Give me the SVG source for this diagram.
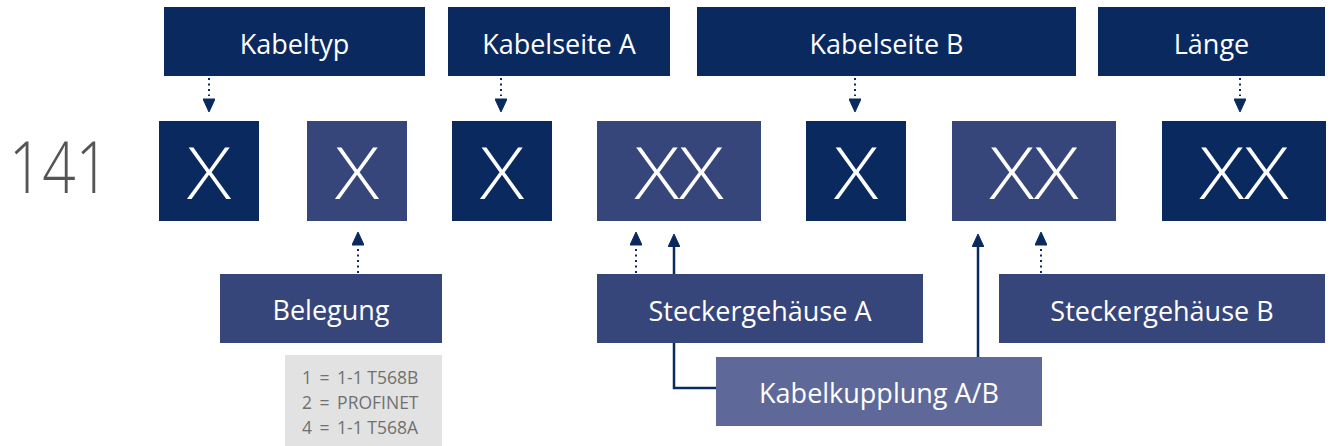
<svg xmlns="http://www.w3.org/2000/svg" width="1332" height="446" viewBox="0 0 1332 446">
<style>
.dark{fill:#0a2a5f}
.mid{fill:#37467a}
.light{fill:#5f6999}
.lbl{font-family:"Open Sans","Noto Sans",sans-serif;font-size:27px;fill:#ffffff;text-anchor:middle}
.big{font-family:"Open Sans","Noto Sans",sans-serif;font-size:72px;font-weight:300;fill:#ffffff;text-anchor:middle}
.code{font-family:"Open Sans","Noto Sans",sans-serif;font-size:72px;font-weight:300;fill:#555555}
.small{font-family:"Open Sans","Noto Sans",sans-serif;font-size:17.5px;fill:#707070}
.eq{word-spacing:3px}
.dot{fill:none;stroke:#0a2a5f;stroke-width:2;stroke-dasharray:2 3.5}
.solid{fill:none;stroke:#0a2a5f;stroke-width:2.5}
</style>
<defs>
<marker id="ahg" markerUnits="userSpaceOnUse" viewBox="0 0 16 12" markerWidth="16" markerHeight="12" refX="0" refY="6" orient="auto">
<path d="M3,0 L16,6 L3,12 z" fill="#0a2a5f" stroke="#0a2a5f" stroke-width="1" stroke-linejoin="round"/>
</marker>
<marker id="ah" markerUnits="userSpaceOnUse" viewBox="0 0 14 12" markerWidth="14" markerHeight="12" refX="1" refY="6" orient="auto">
<path d="M0,0 L13,6 L0,12 z" fill="#0a2a5f" stroke="#0a2a5f" stroke-width="1" stroke-linejoin="round"/>
</marker>
</defs>

<g id="connectors">
<path class="dot" d="M209,78 V96" marker-end="url(#ahg)"/>
<path class="dot" d="M501,78 V96" marker-end="url(#ahg)"/>
<path class="dot" d="M855,78 V96" marker-end="url(#ahg)"/>
<path class="dot" d="M1240,78 V96" marker-end="url(#ahg)"/>
<path class="dot" d="M358,273 V248" marker-end="url(#ahg)"/>
<path class="dot" d="M636,273 V248" marker-end="url(#ahg)"/>
<path class="dot" d="M1041,273 V248" marker-end="url(#ahg)"/>
<path class="solid" d="M716,388 H674 V246" marker-end="url(#ah)"/>
<path class="solid" d="M978,357 V246" marker-end="url(#ah)"/>
</g>

<g id="code-141"><text class="code" x="9" y="193" textLength="100" lengthAdjust="spacingAndGlyphs">141</text></g>

<g id="kabeltyp"><rect class="dark" x="164" y="7" width="261" height="69"/><text class="lbl" x="294.5" y="54">Kabeltyp</text></g>
<g id="kabelseite-a"><rect class="dark" x="448" y="7" width="222" height="69"/><text class="lbl" x="559" y="54">Kabelseite A</text></g>
<g id="kabelseite-b"><rect class="dark" x="697" y="7" width="379" height="69"/><text class="lbl" x="886.5" y="54">Kabelseite B</text></g>
<g id="laenge"><rect class="dark" x="1098" y="7" width="227" height="69"/><text class="lbl" x="1211.5" y="54">Länge</text></g>

<g id="x1"><rect class="dark" x="159" y="121" width="100" height="100"/><text class="big" x="209" y="199" textLength="44" lengthAdjust="spacingAndGlyphs">X</text></g>
<g id="x2"><rect class="mid" x="307" y="121" width="100" height="100"/><text class="big" x="357" y="199" textLength="44" lengthAdjust="spacingAndGlyphs">X</text></g>
<g id="x3"><rect class="dark" x="452" y="121" width="100" height="100"/><text class="big" x="502" y="199" textLength="44" lengthAdjust="spacingAndGlyphs">X</text></g>
<g id="xx4"><rect class="mid" x="597" y="121" width="164" height="100"/><text class="big" x="679" y="199" textLength="89" lengthAdjust="spacingAndGlyphs">XX</text></g>
<g id="x5"><rect class="dark" x="806" y="121" width="100" height="100"/><text class="big" x="856" y="199" textLength="44" lengthAdjust="spacingAndGlyphs">X</text></g>
<g id="xx6"><rect class="mid" x="952" y="121" width="164" height="100"/><text class="big" x="1034" y="199" textLength="89" lengthAdjust="spacingAndGlyphs">XX</text></g>
<g id="xx7"><rect class="dark" x="1162" y="121" width="164" height="100"/><text class="big" x="1244" y="199" textLength="89" lengthAdjust="spacingAndGlyphs">XX</text></g>

<g id="belegung"><rect class="mid" x="220" y="274" width="222" height="69"/><text class="lbl" x="331" y="320">Belegung</text></g>
<g id="belegung-legend"><rect x="285" y="355" width="157" height="91" fill="#e2e2e2"/>
<text class="small" x="302" y="384"><tspan class="eq">1 = </tspan>1-1 T568B</text>
<text class="small" x="302" y="409"><tspan class="eq">2 = </tspan>PROFINET</text>
<text class="small" x="302" y="434"><tspan class="eq">4 = </tspan>1-1 T568A</text></g>
<g id="steckergehaeuse-a"><rect class="mid" x="597" y="274" width="326" height="69"/><text class="lbl" x="760" y="321">Steckergehäuse A</text></g>
<g id="steckergehaeuse-b"><rect class="mid" x="999" y="274" width="326" height="69"/><text class="lbl" x="1162" y="321">Steckergehäuse B</text></g>
<g id="kabelkupplung"><rect class="light" x="716" y="357" width="326" height="69"/><text class="lbl" x="879" y="403">Kabelkupplung A/B</text></g>
</svg>
